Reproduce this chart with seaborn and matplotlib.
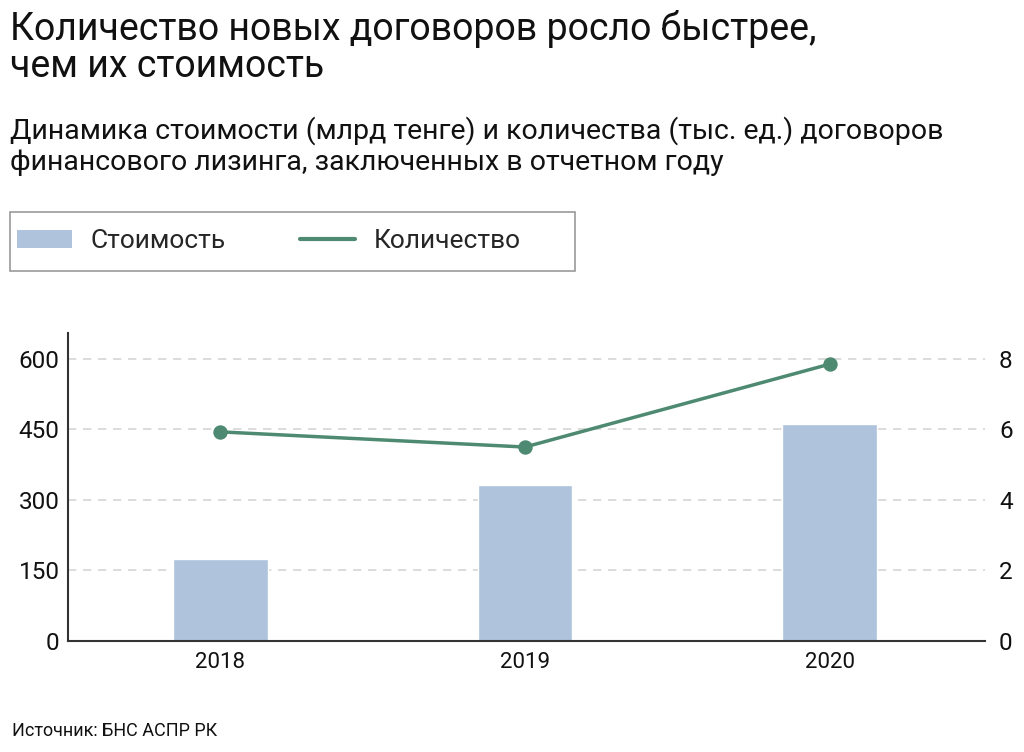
import matplotlib
matplotlib.use("Agg")
import matplotlib.pyplot as plt
import seaborn as sns
import pandas as pd
from matplotlib.patches import Patch, Rectangle
from matplotlib.lines import Line2D

years = ["2018", "2019", "2020"]
cost = [174, 332, 462]          # млрд тенге
count = [5.93, 5.5, 7.85]       # тыс. ед.
left_ticks = [0, 150, 300, 450, 600]
right_ticks = [0, 2, 4, 6, 8]

title = "Количество новых договоров росло быстрее,\nчем их стоимость"
subtitle = ("Динамика стоимости (млрд тенге) и количества (тыс. ед.) договоров\n"
            "финансового лизинга, заключенных в отчетном году")
source = "Источник: БНС АСПР РК"
legend_labels = ["Стоимость", "Количество"]

bar_color = "#AFC3DC"
line_color = "#4E8A72"

sns.set_theme(style="white")
plt.rcParams["font.family"] = ["Roboto", "DejaVu Sans"]

df = pd.DataFrame({"year": years, "cost": cost, "count": count})

fig = plt.figure(figsize=(10.24, 7.52), dpi=100)
ax = fig.add_axes([68/1024, 1-641/752, (985-68)/1024, (641-333)/752])

sns.barplot(data=df, x="year", y="cost", ax=ax, color=bar_color, width=0.31,
            saturation=1, zorder=2)
ax.set_ylim(0, 655)
ax.set_yticks(left_ticks)
ax.set_xlim(-0.5, 2.51)
ax.yaxis.grid(True, linestyle=(0, (5, 4)), color="#D6D6D6", linewidth=1.2, zorder=0)
ax.set_axisbelow(True)
for s in ["top", "right"]:
    ax.spines[s].set_visible(False)
for s in ["left", "bottom"]:
    ax.spines[s].set_color("#333333")
    ax.spines[s].set_linewidth(1.5)
ax.set_xlabel("")
ax.set_ylabel("")
ax.tick_params(axis="y", labelsize=17.5, length=0, pad=6, colors="#111111")
ax.tick_params(axis="x", labelsize=16, length=0, pad=8, colors="#111111")

ax2 = ax.twinx()
sns.pointplot(data=df, x="year", y="count", ax=ax2, color=line_color,
              markers="o", markersize=8.5, linewidth=2.5, errorbar=None)
ax2.set_ylim(0, 8 * 655 / 600)
ax2.set_yticks(right_ticks)
ax2.set_xlim(-0.5, 2.51)
ax2.set_ylabel("")
for s in ["top", "right", "left", "bottom"]:
    ax2.spines[s].set_visible(False)
ax2.tick_params(axis="y", labelsize=17.5, length=0, pad=10, colors="#111111")
ax2.grid(False)

fig.text(10/1024, 1-10/752, title, fontsize=27, va="top", ha="left",
         linespacing=1.0, color="#111111")
fig.text(10/1024, 1-146/752, subtitle, fontsize=20.5, va="center", ha="left",
         linespacing=1.2, color="#111111")
fig.text(12/1024, 1-731/752, source, fontsize=13, va="center", ha="left",
         color="#111111")

# legend frame
fig.patches.append(Rectangle((10/1024, 1-271/752), 565/1024, 59/752,
                             transform=fig.transFigure, facecolor="none",
                             edgecolor="#999999", linewidth=1.2))

handles = [Patch(facecolor=bar_color, edgecolor="none"),
           Line2D([0], [0], color=line_color, linewidth=3)]
leg = fig.legend(handles, legend_labels, loc="center left", ncol=2,
                 bbox_to_anchor=(17/1024, 1-241/752),
                 fontsize=19, frameon=False, handlelength=2.1, handleheight=0.65,
                 handletextpad=0.7, columnspacing=2.8, borderpad=0,
                 borderaxespad=0)

fig.savefig("out.png", dpi=100)
